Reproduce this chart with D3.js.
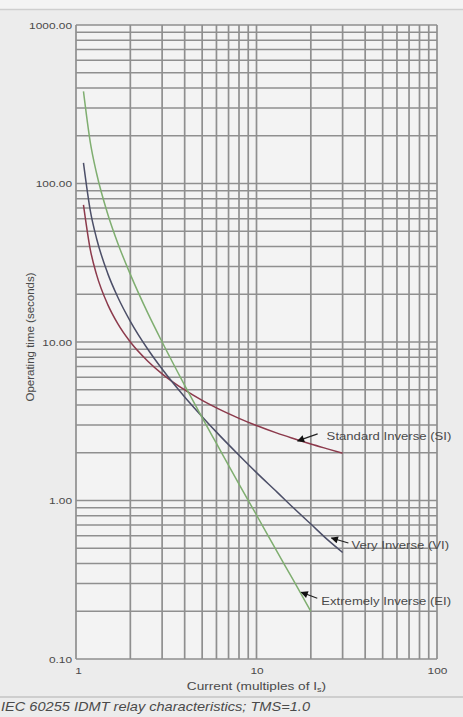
<!DOCTYPE html>
<html>
<head>
<meta charset="utf-8">
<script src="https://cdn.jsdelivr.net/npm/d3@7/dist/d3.min.js"></script>
<style>
  html, body { margin: 0; padding: 0; background: #ececec; }
  svg { display: block; }
  text { font-family: "Liberation Sans", Arial, sans-serif; fill: #4a4a4a; }
</style>
</head>
<body>
<svg id="chart" width="463" height="717"></svg>
<script>
// Multiples of setting current (I/Is)
const currents = [1.1, 1.2, 1.3, 1.5, 1.7, 2, 2.5, 3, 4, 5, 6, 8, 10, 13, 16, 20, 25, 30];
// Operating times in seconds, TMS = 1.0
const siTimes = [73.4, 38.3, 26.6, 17.2, 13.1, 10.0, 7.57, 6.30, 4.98, 4.28, 3.84, 3.30, 2.97, 2.66, 2.46, 2.27, 2.11, 1.99];
const viTimes = [135, 67.5, 45, 27, 19.3, 13.5, 9.0, 6.75, 4.5, 3.38, 2.7, 1.93, 1.5, 1.13, 0.90, 0.71, 0.56, 0.47];
const eiCurrents = [1.1, 1.2, 1.3, 1.5, 1.7, 2, 2.5, 3, 4, 5, 6, 8, 10, 13, 16, 20];
const eiTimes = [381, 182, 116, 64, 42.3, 26.7, 15.2, 10.0, 5.33, 3.33, 2.29, 1.27, 0.81, 0.476, 0.314, 0.20];

const seriesNames = ["Standard Inverse (SI)", "Very Inverse (VI)", "Extremely Inverse (EI)"];
const labelAtCurrent = [16.9, 26, 17.7];

const yTickValues = [1000, 100, 10, 1, 0.1];
const yTickLabels = ["1000.00", "100.00", "10.00", "1.00", "0.10"];
const xTickValues = [1, 10, 100];
const xTickLabels = ["1", "10", "100"];

const svg = d3.select("#chart");
const W = 463, H = 717;
const m = { left: 76, right: 26, top: 25, bottom: 58 };
const WIDE = 1.25; // horizontal stretch applied to text

const x = d3.scaleLog().domain([1, 100]).range([m.left, W - m.right]);
const y = d3.scaleLog().domain([0.1, 1000]).range([H - m.bottom, m.top]);

// page background and top band
svg.append("rect").attr("width", W).attr("height", H).attr("fill", "#ececec");
svg.append("rect").attr("width", W).attr("height", 9).attr("fill", "#f4f4f4");
svg.append("line").attr("x1", 0).attr("x2", W).attr("y1", 9.5).attr("y2", 9.5)
  .attr("stroke", "#cfcfcf").attr("stroke-width", 1.5);

// plot area
svg.append("rect")
  .attr("x", m.left).attr("y", m.top)
  .attr("width", x(100) - x(1)).attr("height", y(0.1) - y(1000))
  .attr("fill", "#f3f3f3");

// log grid: 1..9 per decade
const xGrid = [];
for (let d = 1; d < 100; d *= 10) for (let k = 1; k <= 9; k++) xGrid.push(k * d);
xGrid.push(100);
const yGrid = [];
for (let d = 0.1; d < 999; d *= 10) for (let k = 1; k <= 9; k++) yGrid.push(+(k * d).toPrecision(3));
yGrid.push(1000);

const grid = svg.append("g").attr("stroke", "#8f8f8f");
grid.selectAll("line.v").data(xGrid).join("line").attr("class", "v")
  .attr("x1", d => x(d)).attr("x2", d => x(d))
  .attr("y1", y(1000)).attr("y2", y(0.1))
  .attr("stroke-width", 1.7);
grid.selectAll("line.h").data(yGrid).join("line").attr("class", "h")
  .attr("y1", d => y(d)).attr("y2", d => y(d))
  .attr("x1", x(1)).attr("x2", x(100))
  .attr("stroke-width", 1.5);

// stretch a text element horizontally around its own anchor
function widen(sel, k) {
  sel.each(function () {
    const n = this.getComputedTextLength();
    d3.select(this).attr("textLength", n * k).attr("lengthAdjust", "spacingAndGlyphs");
  });
}

// axes (labels only, grid draws the lines)
const yAxis = svg.append("g").attr("transform", `translate(${m.left - 3},0)`)
  .call(d3.axisLeft(y).tickValues(yTickValues).tickSize(0).tickPadding(1)
    .tickFormat((d, i) => yTickLabels[i]));
yAxis.select(".domain").remove();
yAxis.selectAll("text").attr("font-size", 9.5).attr("fill", "#555")
  .style("font-family", "'Liberation Sans', Arial, sans-serif");
widen(yAxis.selectAll("text"), WIDE);

const xAxis = svg.append("g").attr("transform", `translate(0,${H - m.bottom + 6})`)
  .call(d3.axisBottom(x).tickValues(xTickValues).tickSize(0).tickPadding(2)
    .tickFormat((d, i) => xTickLabels[i]));
xAxis.select(".domain").remove();
xAxis.selectAll("text").attr("font-size", 9.5).attr("fill", "#555")
  .style("font-family", "'Liberation Sans', Arial, sans-serif");
widen(xAxis.selectAll("text"), WIDE);
xAxis.selectAll(".tick").filter(d => d === 1).select("text").attr("dx", 2);

// axis titles
svg.append("text")
  .attr("transform", `translate(34,337) rotate(-90)`)
  .attr("text-anchor", "middle").attr("font-size", 11.5).attr("fill", "#444")
  .text("Operating time (seconds)");

const xt = svg.append("text")
  .attr("x", x(10)).attr("y", H - m.bottom + 31)
  .attr("text-anchor", "middle").attr("font-size", 10.5).attr("fill", "#444")
  .attr("transform", `translate(${x(10)},0) scale(${WIDE + 0.05},1) translate(${-x(10)},0)`);
xt.append("tspan").text("Current (multiples of I");
xt.append("tspan").attr("font-size", 7).attr("dy", 2.5).text("s");
xt.append("tspan").attr("dy", -2.5).text(")");

// curves
const series = [
  { name: seriesNames[0], xs: currents, ys: siTimes, color: "#8c3a4c" },
  { name: seriesNames[1], xs: currents, ys: viTimes, color: "#4c4f68" },
  { name: seriesNames[2], xs: eiCurrents, ys: eiTimes, color: "#7fae70" }
];

const line = d3.line().x(d => x(d[0])).y(d => y(d[1])).curve(d3.curveMonotoneX);
svg.append("g").selectAll("path").data(series).join("path")
  .attr("d", s => line(s.xs.map((v, i) => [v, s.ys[i]])))
  .attr("fill", "none").attr("stroke", s => s.color).attr("stroke-width", 1.5);

// arrowed labels
svg.append("defs").append("marker")
  .attr("id", "head").attr("viewBox", "0 0 10 10").attr("refX", 9).attr("refY", 5)
  .attr("markerWidth", 7).attr("markerHeight", 6).attr("orient", "auto-start-reverse")
  .append("path").attr("d", "M0,0 L10,5 L0,10 Z").attr("fill", "#111");

function interp(xs, ys, c) {
  const lx = xs.map(Math.log), ly = ys.map(Math.log), lc = Math.log(c);
  for (let i = 1; i < lx.length; i++) {
    if (lc <= lx[i]) {
      const t = (lc - lx[i - 1]) / (lx[i] - lx[i - 1]);
      return Math.exp(ly[i - 1] + t * (ly[i] - ly[i - 1]));
    }
  }
  return ys[ys.length - 1];
}

const offsets = [
  { tail: [20, -7], text: [29, -5], tipNudge: [0, 1] },
  { tail: [17, 5], text: [20, 7], tipNudge: [0, -5] },
  { tail: [16, 6], text: [20, 9], tipNudge: [0, -2] }
];

series.forEach((s, i) => {
  const c = labelAtCurrent[i];
  const tx = x(c) + offsets[i].tipNudge[0];
  const ty = y(interp(s.xs, s.ys, c)) + offsets[i].tipNudge[1];
  svg.append("line")
    .attr("x1", tx + offsets[i].tail[0]).attr("y1", ty + offsets[i].tail[1])
    .attr("x2", tx).attr("y2", ty)
    .attr("stroke", "#222").attr("stroke-width", 1.2)
    .attr("marker-end", "url(#head)");
  const t = svg.append("text")
    .attr("x", tx + offsets[i].text[0]).attr("y", ty + offsets[i].text[1])
    .attr("dy", "0.35em").attr("font-size", 10.5).attr("fill", "#555")
    .text(s.name);
  widen(t, WIDE);
});

// caption
svg.append("line").attr("x1", 0).attr("x2", W).attr("y1", 697).attr("y2", 697)
  .attr("stroke", "#c4c4c4").attr("stroke-width", 1.5);
const cap = svg.append("text")
  .attr("x", 1).attr("y", 711)
  .attr("font-size", 13.5).attr("font-style", "italic").attr("fill", "#555")
  .text("IEC 60255 IDMT relay characteristics; TMS=1.0");
cap.attr("textLength", 309).attr("lengthAdjust", "spacingAndGlyphs");
</script>
</body>
</html>
